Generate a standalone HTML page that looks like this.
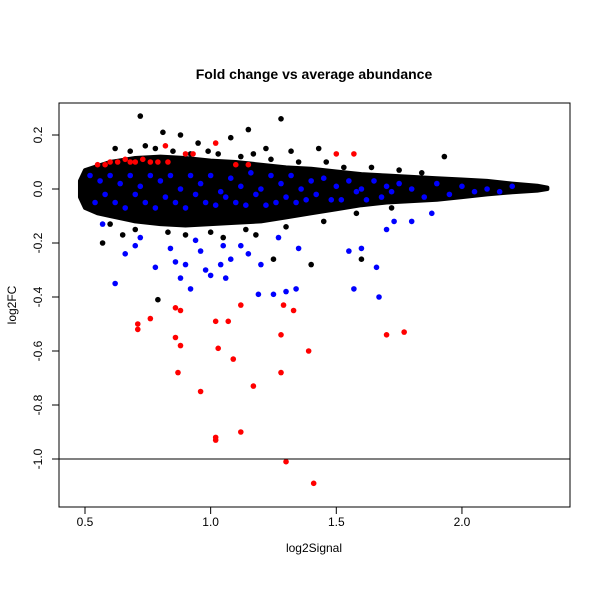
<!DOCTYPE html>
<html><head><meta charset="utf-8"><style>
body{margin:0;background:#fff}
svg{display:block;font-family:"Liberation Sans",Arial,sans-serif}
</style></head><body>
<svg id="chart" width="600" height="600">
<rect width="600" height="600" fill="#fff"/>
<text x="314" y="79" font-size="14" font-weight="bold" text-anchor="middle">Fold change vs average abundance</text>
<text x="314" y="552" font-size="12" text-anchor="middle">log2Signal</text>
<text x="16" y="305" font-size="12" text-anchor="middle" transform="rotate(-90 16 305)">log2FC</text>
<g id="marks"></g>
<rect x="59" y="103" width="511" height="404" fill="none" stroke="#000"/>
<g id="axes"></g>
</svg>
<script>
const xTicks=[0.5,1.0,1.5,2.0];
const xTickLabels=["0.5","1.0","1.5","2.0"];
const yTicks=[0.2,0.0,-0.2,-0.4,-0.6,-0.8,-1.0];
const yTickLabels=["0.2","0.0","-0.2","-0.4","-0.6","-0.8","-1.0"];
const cloudX=[0.48,0.5,0.55,0.6,0.7,0.8,0.9,1.0,1.1,1.2,1.3,1.4,1.5,1.6,1.7,1.8,1.9,2.0,2.1,2.2,2.3,2.34];
const cloudUpper=[0.03,0.07,0.085,0.1,0.115,0.12,0.115,0.105,0.1,0.09,0.08,0.075,0.065,0.055,0.05,0.045,0.04,0.035,0.03,0.02,0.012,0.005];
const cloudLower=[-0.03,-0.07,-0.09,-0.1,-0.12,-0.13,-0.135,-0.13,-0.125,-0.12,-0.105,-0.09,-0.075,-0.06,-0.05,-0.045,-0.04,-0.03,-0.02,-0.012,-0.006,0.0];
const blackX=[0.72,0.79,0.81,0.88,1.08,1.15,1.28,1.25,1.32,1.43,1.60,1.93,0.57,0.65,1.40,0.62,0.74,0.95,1.05,1.18,1.22,
 0.68,0.78,0.85,0.92,0.99,1.03,1.12,1.17,1.24,1.35,1.46,1.53,1.64,1.75,1.84,0.6,0.7,0.83,0.9,1.0,1.14,1.3,1.45,1.58,1.72];
const blackY=[0.27,-0.41,0.21,0.20,0.19,0.22,0.26,-0.26,0.14,0.15,-0.26,0.12,-0.20,-0.17,-0.28,0.15,0.16,0.17,-0.18,-0.17,0.15,
 0.14,0.15,0.14,0.13,0.14,0.13,0.12,0.13,0.11,0.1,0.1,0.08,0.08,0.07,0.06,-0.13,-0.15,-0.16,-0.17,-0.16,-0.15,-0.14,-0.12,-0.09,-0.07];
const blueX=[0.62,0.66,0.78,0.84,0.86,0.88,0.90,0.92,0.94,0.96,0.98,1.00,1.04,1.06,1.08,1.12,1.15,1.19,1.20,1.25,1.30,1.34,1.27,1.35,1.55,1.57,1.60,1.66,1.67,1.70,1.73,1.80,1.88,1.05,0.72,0.57,0.70,
 0.52,0.56,0.6,0.64,0.68,0.72,0.76,0.8,0.84,0.88,0.92,0.96,1.0,1.04,1.08,1.12,1.16,1.2,1.24,1.28,1.32,1.36,1.4,1.45,1.5,1.55,1.6,1.65,1.7,1.75,1.8,1.9,2.0,2.1,2.2,
 0.54,0.58,0.62,0.66,0.7,0.74,0.78,0.82,0.86,0.9,0.94,0.98,1.02,1.06,1.1,1.14,1.18,1.22,1.26,1.3,1.34,1.38,1.42,1.48,1.52,1.58,1.62,1.68,1.72,1.85,1.95,2.05,2.15];
const blueY=[-0.35,-0.24,-0.29,-0.22,-0.27,-0.33,-0.28,-0.37,-0.19,-0.23,-0.30,-0.32,-0.28,-0.33,-0.26,-0.21,-0.24,-0.39,-0.28,-0.39,-0.38,-0.37,-0.18,-0.22,-0.23,-0.37,-0.22,-0.29,-0.40,-0.15,-0.12,-0.12,-0.09,-0.21,-0.18,-0.13,-0.21,
 0.05,0.03,0.05,0.02,0.05,0.01,0.05,0.03,0.05,0.0,0.05,0.02,0.05,-0.01,0.04,0.01,0.06,0.0,0.05,0.02,0.05,0.0,0.03,0.04,0.01,0.03,0.0,0.03,0.01,0.02,0.0,0.02,0.01,0.0,0.01,
 -0.05,-0.02,-0.05,-0.07,-0.02,-0.05,-0.07,-0.03,-0.05,-0.07,-0.02,-0.05,-0.06,-0.03,-0.05,-0.06,-0.02,-0.06,-0.05,-0.03,-0.05,-0.04,-0.02,-0.04,-0.04,-0.01,-0.04,-0.03,-0.01,-0.03,-0.02,-0.01,-0.01];
const redX=[0.71,0.71,0.76,0.86,0.88,0.86,0.88,0.87,0.96,1.02,1.02,1.02,1.03,1.07,1.09,1.12,1.12,1.17,1.30,1.33,1.28,1.28,1.29,1.39,1.41,1.70,1.77,1.50,1.57,1.02,0.82,
 0.55,0.58,0.6,0.63,0.66,0.68,0.7,0.73,0.76,0.79,0.83,0.9,0.93,1.1,1.15];
const redY=[-0.50,-0.52,-0.48,-0.44,-0.45,-0.55,-0.58,-0.68,-0.75,-0.92,-0.93,-0.49,-0.59,-0.49,-0.63,-0.43,-0.90,-0.73,-1.01,-0.45,-0.54,-0.68,-0.43,-0.60,-1.09,-0.54,-0.53,0.13,0.13,0.17,0.16,
 0.09,0.09,0.1,0.1,0.11,0.1,0.1,0.11,0.1,0.1,0.1,0.13,0.13,0.09,0.09];
const NS="http://www.w3.org/2000/svg";
const sx=v=>85+(v-0.5)*251.3;
const sy=v=>189-v*270;
const marks=document.getElementById('marks'),axes=document.getElementById('axes');
function mk(t,a,p){const e=document.createElementNS(NS,t);for(const k in a)e.setAttribute(k,a[k]);p.appendChild(e);return e;}
let pts=cloudX.map((x,i)=>sx(x)+','+sy(cloudUpper[i]));
for(let i=cloudX.length-1;i>=0;i--)pts.push(sx(cloudX[i])+','+sy(cloudLower[i]));
const cloud=mk('polygon',{points:pts.join(' '),fill:'#000',stroke:'#000','stroke-width':4,'stroke-linejoin':'round'},marks);


function dots(X,Y,col,name){X.forEach((x,i)=>{const c=mk('circle',{cx:sx(x),cy:sy(Y[i]),r:2.8,fill:col},marks);

});}
dots(blackX,blackY,'#000','black-point');
dots(blueX,blueY,'#0000ff','blue-point');
dots(redX,redY,'#ff0000','red-point');
const hl=mk('line',{x1:59,x2:570,y1:sy(-1),y2:sy(-1),stroke:'#000'},axes);


mk('line',{x1:sx(xTicks[0]),x2:sx(xTicks[xTicks.length-1]),y1:507,y2:507,stroke:'#000'},axes);
xTicks.forEach((v,i)=>{mk('line',{x1:sx(v),x2:sx(v),y1:507,y2:514,stroke:'#000'},axes);
const t=mk('text',{x:sx(v),y:526,'font-size':12,'text-anchor':'middle'},axes);t.textContent=xTickLabels[i];

});
mk('line',{x1:59,x2:59,y1:sy(yTicks[0]),y2:sy(yTicks[yTicks.length-1]),stroke:'#000'},axes);
yTicks.forEach((v,i)=>{mk('line',{x1:52,x2:59,y1:sy(v),y2:sy(v),stroke:'#000'},axes);
const t=mk('text',{x:42,y:sy(v),'font-size':12,'text-anchor':'middle',transform:`rotate(-90 42 ${sy(v)})`},axes);t.textContent=yTickLabels[i];

});
</script>
</body></html>
